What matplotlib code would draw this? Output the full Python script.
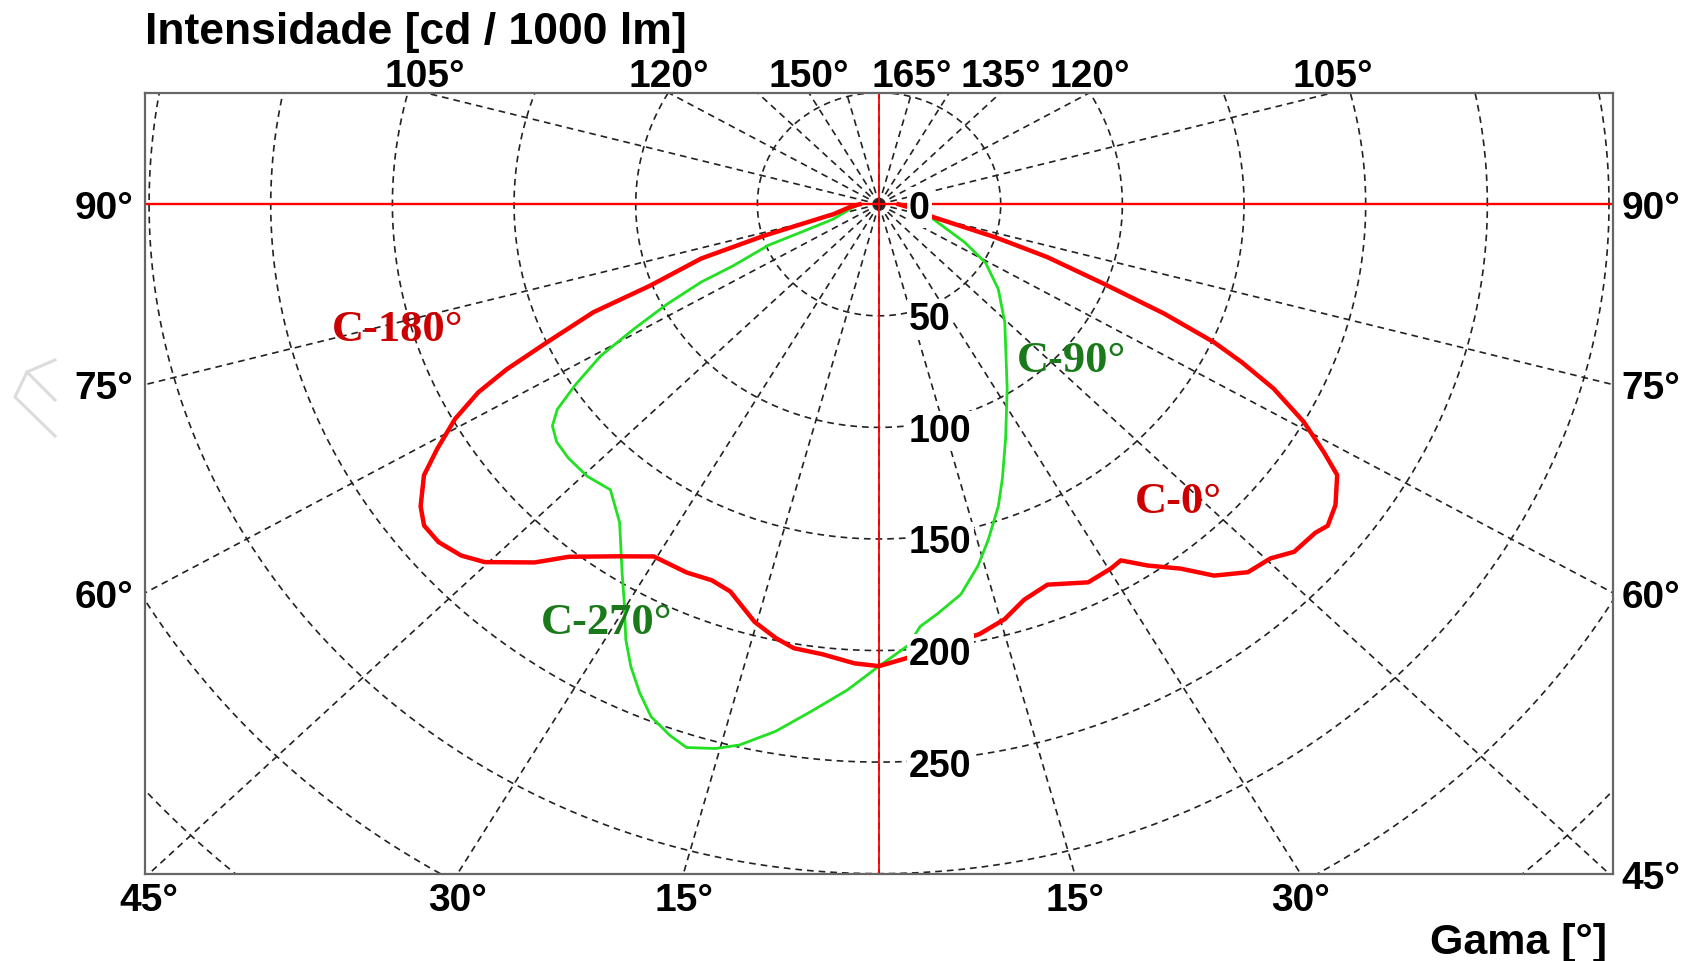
import numpy as np
import matplotlib.pyplot as plt
from matplotlib.lines import Line2D

# luminous intensity [cd / 1000 lm] against gamma [deg]
gamma_c0 = [0, 2.9, 12.1, 15.5, 18.6, 22.1, 26.9, 30.3, 31.9, 34.3, 37.2, 39.6, 42.6, 45.4, 47.6,
            50.6, 52, 54.3, 57.2, 58.7, 60.8, 63, 64.6, 65.8, 67.3, 68.9, 71.1, 72.8, 75.5, 84, 90]
int_c0 = [207, 204, 197, 193, 187, 184, 190, 189, 188, 196, 205, 216, 224, 226, 231,
          232, 234, 231, 224, 214, 200, 182, 165, 151, 127, 99, 73, 50, 23, 12, 8]

gamma_c180 = [0, 2.8, 6.6, 10, 12.3, 15.3, 19.4, 22.2, 25.6, 30.4, 34.3, 38.9, 41.4, 45.3, 47.5,
              50.1, 52.4, 54.3, 57, 58.9, 61.1, 62.9, 64.2, 65.6, 67.6, 68.8, 71.6, 73.4, 76.8, 84, 90]
int_c180 = [207, 206, 203, 202, 199, 194, 184, 182, 183, 183, 191, 203, 214, 228, 233,
            236, 236, 232, 223, 212, 199, 185, 170, 150, 127, 101, 77, 49, 19, 12, 8]

gamma_c90 = [0, 3.5, 5.1, 7.5, 10.9, 14.1, 16.6, 19.9, 22.4, 26.4, 32.5, 44.3, 52.2, 59.1, 64.2, 73.6, 82, 90]
int_c90 = [207, 198, 190, 185, 178, 167, 157, 144, 133, 117, 98, 74, 62, 51, 39, 23, 14, 8]

gamma_c270 = [0, 3.4, 7, 10.2, 13.3, 15.4, 18, 19.9, 22.2, 24.2, 26.2, 28.1, 30.2, 32.6, 36.8, 40.8,
              44.5, 48.3, 51.2, 53.5, 55.2, 57, 59.3, 61, 62.8, 64.5, 65.3, 68, 68.7, 70.5, 80, 90]
int_c270 = [207, 218, 229, 240, 249, 253, 256, 253, 248, 240, 231, 221, 208, 196, 178, 169,
            171, 171, 170, 167, 161, 149, 133, 115, 98, 81, 66, 49, 34, 20, 12, 8]

ring_values = [0, 50, 100, 150, 200, 250]
deg_top = [105, 120, 150, 165, 135, 120, 105]
side_top = [-1, -1, -1, 1, 1, 1, 1]
deg_bottom = [45, 30, 15, 15, 30]
side_bottom = [-1, -1, -1, 1, 1]
deg_left = [90, 75, 60]
deg_right = [90, 75, 60, 45]

curve_labels = ['C-180°', 'C-90°', 'C-0°', 'C-270°']
label_pos = [(-198, -56), (79, -70), (123, -133), (-112, -187)]
label_col = ['#cc0000', '#1a7a1a', '#cc0000', '#1a7a1a']

XMAX, YMIN, YMAX = 301.5, -300, 50
sans = 'Liberation Sans'
serif = 'Liberation Serif'


def to_xy(g, i, side):
    g = np.radians(np.asarray(g, float))
    i = np.asarray(i, float)
    return side * i * np.sin(g), -i * np.cos(g)


fig = plt.figure(figsize=(16.89, 9.62), dpi=100)
ax = fig.add_axes([0.0861, 0.0908, 0.8687, 0.8118])
ax.set_xlim(-XMAX, XMAX)
ax.set_ylim(YMIN, YMAX)
ax.set_xticks([])
ax.set_yticks([])
for s in ax.spines.values():
    s.set_color('#666666')
    s.set_linewidth(1.6)

# polar grid
grid = dict(color='#222222', lw=1.2, ls=(0, (4, 3)), zorder=1)
th = np.linspace(0, 2 * np.pi, 1441)
for r in range(50, 451, 50):
    ax.plot(r * np.cos(th), r * np.sin(th), **grid)
for a in range(0, 360, 15):
    ax.plot([0, 600 * np.sin(np.radians(a))], [0, -600 * np.cos(np.radians(a))], **grid)

ax.axhline(0, color='red', lw=1.7, zorder=2)
ax.axvline(0, color='red', lw=1.3, zorder=2)

# curves
xl, yl = to_xy(gamma_c180, int_c180, -1)
xr, yr = to_xy(gamma_c0, int_c0, 1)
ax.plot(np.r_[xl[::-1], xr], np.r_[yl[::-1], yr], color='#ff0000', lw=3.2, zorder=4,
        solid_joinstyle='round')
xl, yl = to_xy(gamma_c270, int_c270, -1)
xr, yr = to_xy(gamma_c90, int_c90, 1)
ax.plot(np.r_[xl[::-1], xr], np.r_[yl[::-1], yr], color='#22e022', lw=2.0, zorder=3,
        solid_joinstyle='round')

# radial values
fs_r = 27
for v in ring_values:
    ax.annotate(str(v), xy=(12.3, -v), xytext=(0, -0.358 * fs_r), textcoords='offset points',
                ha='left', va='baseline', fontsize=fs_r, fontweight='bold', family=sans,
                zorder=6, bbox=dict(fc='white', ec='none', pad=1.5))

# gamma labels around the frame
fs_d = 28
cap = 0.358 * fs_d
for g, s in zip(deg_top, side_top):
    x = s * (-YMAX * np.tan(np.radians(g)))
    ax.annotate('%d°' % g, xy=(x, YMAX), xytext=(0, 4.5), textcoords='offset points',
                ha='center', va='baseline', fontsize=fs_d, fontweight='bold', family=sans,
                annotation_clip=False)
for g, s in zip(deg_bottom, side_bottom):
    x = s * (-YMIN) * np.tan(np.radians(g))
    ax.annotate('%d°' % g, xy=(x, YMIN), xytext=(0, -26), textcoords='offset points',
                ha='center', va='baseline', fontsize=fs_d, fontweight='bold', family=sans,
                annotation_clip=False)
for g in deg_left:
    y = -XMAX * np.cos(np.radians(g)) / np.sin(np.radians(g))
    ax.annotate('%d°' % g, xy=(-XMAX, y), xytext=(-8.5, -cap), textcoords='offset points',
                ha='right', va='baseline', fontsize=fs_d, fontweight='bold', family=sans,
                annotation_clip=False)
for g in deg_right:
    y = max(-XMAX * np.cos(np.radians(g)) / np.sin(np.radians(g)), YMIN)
    ax.annotate('%d°' % g, xy=(XMAX, y), xytext=(6.5, -cap), textcoords='offset points',
                ha='left', va='baseline', fontsize=fs_d, fontweight='bold', family=sans,
                annotation_clip=False)

# curve names
for t, p, c in zip(curve_labels, label_pos, label_col):
    ax.text(p[0], p[1], t, color=c, fontsize=32, fontweight='bold', family=serif,
            ha='center', va='center', zorder=7)

fig.text(0.0861, 1 - 44 / 962, 'Intensidade [cd / 1000 lm]', fontsize=32, fontweight='bold',
         family=sans, ha='left', va='baseline')
fig.text(1607 / 1689, 1 - 954 / 962, 'Gama [°]', fontsize=31, fontweight='bold',
         family=sans, ha='right', va='baseline')

# faint scan mark at the left edge
px = lambda x, y: (x / 1689, 1 - y / 962)
for seg in [[(55, 361), (27, 373), (15, 398), (55, 437)], [(27, 373), (55, 401)]]:
    pts = [px(*p) for p in seg]
    fig.add_artist(Line2D([p[0] for p in pts], [p[1] for p in pts], color='#dcdcdc',
                          lw=2.2, transform=fig.transFigure))

fig.savefig('out.png', dpi=100, facecolor='white')
